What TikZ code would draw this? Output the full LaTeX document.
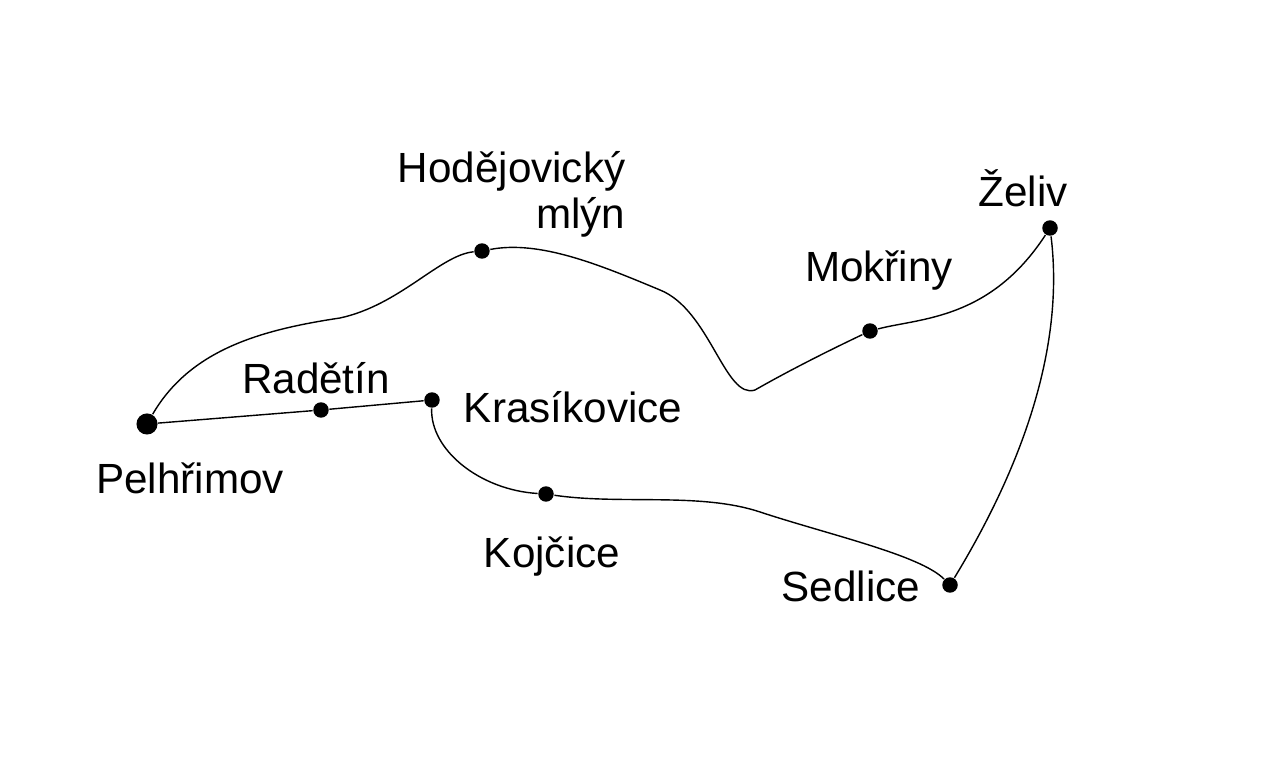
\documentclass[tikz,border=0pt]{standalone}
\usepackage{fontspec}
\setmainfont{Liberation Sans}
\usetikzlibrary{positioning}
\tikzset{
  town/.style = {circle, fill, inner sep=0pt, minimum size=4.4pt},
  bigtown/.style = {circle, fill, inner sep=0pt, minimum size=6pt},
  townlabel/.style = {font=\fontsize{12}{13}\selectfont, inner sep=0pt},
  road/.style = {draw, line width=0.4pt}
}
\begin{document}
\begin{tikzpicture}[x=0.01cm, y=-0.01cm]
	\useasboundingbox (0,0) rectangle (1280,768);
	\node[bigtown] (pelhrimov) at (147,424) {};
	\node[town] (radetin) at (321,410) {};
	\node[town] (krasikovice) at (432,400) {};
	\node[town] (kojcice) at (546,494) {};
	\node[town] (sedlice) at (950,585) {};
	\node[town] (zeliv) at (1050,228) {};
	\node[town] (mokriny) at (870,331) {};
	\node[town] (hodejovice) at (482,251) {};

	\node[townlabel] at (190,478) {Pelhřimov};
	\node[townlabel] at (316,378) {Radětín};
	\node[townlabel] at (573,407) {Krasíkovice};
	\node[townlabel] at (552,557) {Kojčice};
	\node[townlabel] at (851,586) {Sedlice};
	\node[townlabel] at (1023,188) {Želiv};
	\node[townlabel] at (879,271) {Mokřiny};
	\node[townlabel, align=right, anchor=east] at (626,194) {Hodějovický\\[0pt]mlýn};

	\path[road] (pelhrimov) .. controls (190,350) and (260,330) .. (340,318) .. controls (400,305) and (440,255) .. (hodejovice);
	\path[road] (hodejovice) .. controls (540,240) and (600,265) .. (660,290) .. controls (710,310) and (725,400) .. (755,390) .. controls (790,370) and (830,350) .. (mokriny);
	\path[road] (mokriny) .. controls (920,318) and (990,320) .. (zeliv);
	\path[road] (zeliv) .. controls (1065,350) and (1020,470) .. (sedlice);
	\path[road] (sedlice) .. controls (920,555) and (830,535) .. (760,512) .. controls (700,492) and (620,505) .. (kojcice);
	\path[road] (kojcice) .. controls (480,490) and (430,450) .. (krasikovice);
	\path[road] (krasikovice) -- (radetin);
	\path[road] (radetin) -- (pelhrimov);
\end{tikzpicture}
\end{document}
